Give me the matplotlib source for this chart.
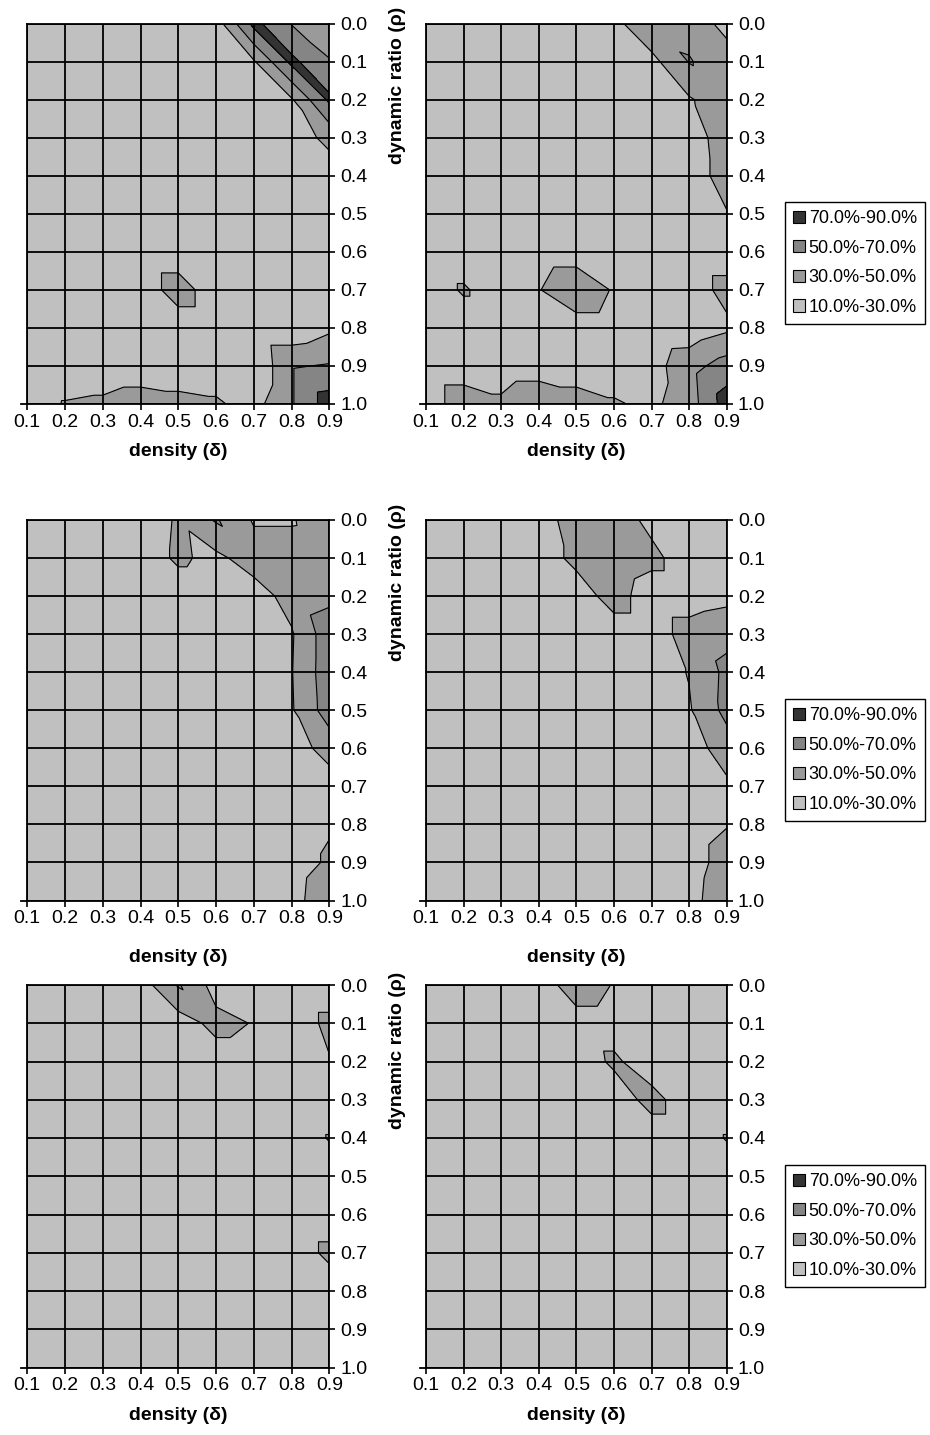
import numpy as np
import matplotlib.pyplot as plt
import matplotlib.tri as mtri
from matplotlib.patches import Patch

plt.rcParams['font.family'] = ['Liberation Sans', 'DejaVu Sans']

# grid of the surface data
density = [0.1, 0.2, 0.3, 0.4, 0.5, 0.6, 0.7, 0.8, 0.9]
ratio = [0.0, 0.1, 0.2, 0.3, 0.4, 0.5, 0.6, 0.7, 0.8, 0.9, 1.0]

band_levels = [0.1, 0.3, 0.5, 0.7, 0.9]
band_colors = ['#c0c0c0', '#9a9a9a', '#858585', '#333333']
legend_labels = ['70.0%-90.0%', '50.0%-70.0%', '30.0%-50.0%', '10.0%-30.0%']

# one row per dynamic ratio (0.0 .. 1.0), one column per density (0.1 .. 0.9)
z_top_left = [
    [0.20, 0.20, 0.20, 0.20, 0.20, 0.20, 0.76, 0.49, 0.40],
    [0.20, 0.20, 0.20, 0.20, 0.20, 0.20, 0.28, 0.75, 0.51],
    [0.20, 0.20, 0.20, 0.20, 0.20, 0.20, 0.20, 0.28, 0.74],
    [0.20, 0.20, 0.20, 0.20, 0.20, 0.20, 0.20, 0.20, 0.35],
    [0.20, 0.20, 0.20, 0.20, 0.20, 0.20, 0.20, 0.20, 0.20],
    [0.20, 0.20, 0.20, 0.20, 0.20, 0.20, 0.20, 0.20, 0.20],
    [0.20, 0.20, 0.20, 0.20, 0.20, 0.20, 0.20, 0.20, 0.20],
    [0.20, 0.20, 0.20, 0.20, 0.38, 0.20, 0.20, 0.20, 0.20],
    [0.20, 0.20, 0.20, 0.20, 0.20, 0.20, 0.15, 0.15, 0.26],
    [0.20, 0.20, 0.20, 0.20, 0.20, 0.20, 0.12, 0.48, 0.52],
    [0.22, 0.31, 0.33, 0.38, 0.35, 0.325, 0.23, 0.48, 0.80],
]

z_top_right = [
    [0.20, 0.20, 0.20, 0.20, 0.20, 0.24, 0.47, 0.45, 0.22],
    [0.20, 0.20, 0.20, 0.20, 0.20, 0.20, 0.24, 0.51, 0.42],
    [0.20, 0.20, 0.20, 0.20, 0.20, 0.20, 0.20, 0.28, 0.42],
    [0.20, 0.20, 0.20, 0.20, 0.20, 0.20, 0.20, 0.20, 0.40],
    [0.20, 0.20, 0.20, 0.20, 0.20, 0.20, 0.20, 0.20, 0.38],
    [0.20, 0.20, 0.20, 0.20, 0.20, 0.20, 0.20, 0.20, 0.29],
    [0.20, 0.20, 0.20, 0.20, 0.20, 0.20, 0.20, 0.20, 0.20],
    [0.20, 0.32, 0.20, 0.29, 0.45, 0.28, 0.20, 0.20, 0.36],
    [0.20, 0.20, 0.20, 0.20, 0.20, 0.20, 0.15, 0.164, 0.26],
    [0.20, 0.20, 0.20, 0.20, 0.20, 0.20, 0.22, 0.426, 0.59],
    [0.20, 0.40, 0.335, 0.45, 0.38, 0.32, 0.26, 0.40, 0.80],
]

z_mid_left = [
    [0.20, 0.20, 0.20, 0.20, 0.32, 0.52, 0.28, 0.28, 0.45],
    [0.20, 0.20, 0.20, 0.20, 0.33, 0.25, 0.40, 0.40, 0.42],
    [0.20, 0.20, 0.20, 0.20, 0.20, 0.20, 0.20, 0.38, 0.45],
    [0.20, 0.20, 0.20, 0.20, 0.20, 0.20, 0.20, 0.28, 0.62],
    [0.20, 0.20, 0.20, 0.20, 0.20, 0.20, 0.20, 0.29, 0.62],
    [0.20, 0.20, 0.20, 0.20, 0.20, 0.20, 0.20, 0.28, 0.60],
    [0.20, 0.20, 0.20, 0.20, 0.20, 0.20, 0.20, 0.20, 0.38],
    [0.20, 0.20, 0.20, 0.20, 0.20, 0.20, 0.20, 0.20, 0.20],
    [0.20, 0.20, 0.20, 0.20, 0.20, 0.20, 0.20, 0.20, 0.28],
    [0.20, 0.20, 0.20, 0.20, 0.20, 0.20, 0.20, 0.20, 0.33],
    [0.20, 0.20, 0.20, 0.20, 0.20, 0.20, 0.20, 0.22, 0.45],
]

z_mid_right = [
    [0.20, 0.20, 0.20, 0.20, 0.40, 0.40, 0.25, 0.20, 0.20],
    [0.20, 0.20, 0.20, 0.20, 0.35, 0.42, 0.35, 0.20, 0.20],
    [0.20, 0.20, 0.20, 0.20, 0.20, 0.38, 0.20, 0.20, 0.24],
    [0.20, 0.20, 0.20, 0.20, 0.20, 0.20, 0.20, 0.38, 0.45],
    [0.20, 0.20, 0.20, 0.20, 0.20, 0.20, 0.20, 0.31, 0.55],
    [0.20, 0.20, 0.20, 0.20, 0.20, 0.20, 0.20, 0.28, 0.56],
    [0.20, 0.20, 0.20, 0.20, 0.20, 0.20, 0.20, 0.20, 0.40],
    [0.20, 0.20, 0.20, 0.20, 0.20, 0.20, 0.20, 0.20, 0.26],
    [0.20, 0.20, 0.20, 0.20, 0.20, 0.20, 0.20, 0.20, 0.29],
    [0.20, 0.20, 0.20, 0.20, 0.20, 0.20, 0.20, 0.20, 0.39],
    [0.20, 0.20, 0.20, 0.20, 0.20, 0.20, 0.20, 0.22, 0.45],
]

z_bot_left = [
    [0.20, 0.20, 0.20, 0.20, 0.52, 0.22, 0.20, 0.20, 0.20],
    [0.20, 0.20, 0.20, 0.20, 0.20, 0.36, 0.29, 0.20, 0.34],
    [0.20, 0.20, 0.20, 0.20, 0.20, 0.20, 0.20, 0.20, 0.29],
    [0.20, 0.20, 0.20, 0.20, 0.20, 0.20, 0.20, 0.20, 0.20],
    [0.20, 0.20, 0.20, 0.20, 0.20, 0.20, 0.20, 0.20, 0.31],
    [0.20, 0.20, 0.20, 0.20, 0.20, 0.20, 0.20, 0.20, 0.20],
    [0.20, 0.20, 0.20, 0.20, 0.20, 0.20, 0.20, 0.20, 0.20],
    [0.20, 0.20, 0.20, 0.20, 0.20, 0.20, 0.20, 0.20, 0.34],
    [0.20, 0.20, 0.20, 0.20, 0.20, 0.20, 0.20, 0.20, 0.20],
    [0.20, 0.20, 0.20, 0.20, 0.20, 0.20, 0.20, 0.20, 0.20],
    [0.20, 0.20, 0.20, 0.20, 0.20, 0.20, 0.20, 0.20, 0.20],
]

z_bot_right = [
    [0.20, 0.20, 0.20, 0.20, 0.40, 0.29, 0.20, 0.20, 0.20],
    [0.20, 0.20, 0.20, 0.20, 0.22, 0.22, 0.20, 0.20, 0.20],
    [0.20, 0.20, 0.20, 0.20, 0.20, 0.33, 0.20, 0.20, 0.20],
    [0.20, 0.20, 0.20, 0.20, 0.20, 0.20, 0.36, 0.20, 0.20],
    [0.20, 0.20, 0.20, 0.20, 0.20, 0.20, 0.20, 0.20, 0.31],
    [0.20, 0.20, 0.20, 0.20, 0.20, 0.20, 0.20, 0.20, 0.20],
    [0.20, 0.20, 0.20, 0.20, 0.20, 0.20, 0.20, 0.20, 0.20],
    [0.20, 0.20, 0.20, 0.20, 0.20, 0.20, 0.20, 0.20, 0.20],
    [0.20, 0.20, 0.20, 0.20, 0.20, 0.20, 0.20, 0.20, 0.20],
    [0.20, 0.20, 0.20, 0.20, 0.20, 0.20, 0.20, 0.20, 0.20],
    [0.20, 0.20, 0.20, 0.20, 0.20, 0.20, 0.20, 0.20, 0.20],
]

panels = [[z_top_left, z_top_right], [z_mid_left, z_mid_right], [z_bot_left, z_bot_right]]

W, H = 930, 1435
fig = plt.figure(figsize=(W / 100, H / 100), dpi=100)

# pixel layout of the panels
row_top = [23.5, 520, 985]
row_bot = [404, 900.5, 1367.5]
col_left = [27.3, 426]
col_right = [329.3, 726.7]
xlabel_y = [452, 957, 1415]
ylabel_y = [85, 582, 1050]
legend_y = [263, 760, 1226]

# triangulate the grid, every cell split along the down-right diagonal
X, Y = np.meshgrid(density, ratio)
nx, ny = len(density), len(ratio)
tris = []
for j in range(ny - 1):
    for i in range(nx - 1):
        a = j * nx + i
        tris.append([a, a + 1, a + nx + 1])
        tris.append([a, a + nx + 1, a + nx])
triang = mtri.Triangulation(X.ravel(), Y.ravel(), tris)

for r in range(3):
    for c in range(2):
        l, t, rt, b = col_left[c], row_top[r], col_right[c], row_bot[r]
        ax = fig.add_axes([l / W, 1 - b / H, (rt - l) / W, (b - t) / H])
        z = np.array(panels[r][c]).ravel()
        ax.tricontourf(triang, z, levels=band_levels, colors=band_colors)
        ax.tricontour(triang, z, levels=[0.3, 0.5, 0.7], colors='k', linewidths=0.8)
        ax.set_xlim(0.1, 0.9)
        ax.set_ylim(1.0, 0.0)
        ax.set_xticks(density)
        ax.set_xticklabels([f'{v:.1f}' for v in density])
        ax.set_yticks(ratio)
        ax.set_yticklabels([f'{v:.1f}' for v in ratio])
        ax.yaxis.tick_right()
        ax.grid(True, color='k', linewidth=1.3)
        ax.set_axisbelow(False)
        ax.tick_params(axis='both', length=4, width=1.2, labelsize=14, colors='k')
        ax.tick_params(axis='x', pad=3)
        ax.tick_params(axis='y', pad=4)
        for s in ax.spines.values():
            s.set_linewidth(1.3)
            s.set_color('k')
        ax.plot([-0.02, 0], [0, 0], transform=ax.transAxes, color='k', lw=1.3, clip_on=False)
        fig.text((l + rt) / 2 / W, 1 - xlabel_y[r] / H, 'density (δ)', ha='center', va='center',
                 fontsize=14, fontweight='bold')
    fig.text(397 / W, 1 - ylabel_y[r] / H, 'dynamic ratio (ρ)', rotation=90, ha='center', va='center',
             fontsize=14, fontweight='bold')
    handles = [Patch(facecolor=col, edgecolor='k', linewidth=0.8) for col in band_colors[::-1]]
    leg = fig.legend(handles, legend_labels, loc='center', bbox_to_anchor=(855 / W, 1 - legend_y[r] / H),
                     frameon=True, fancybox=False, edgecolor='k', framealpha=1, fontsize=13,
                     handlelength=0.67, handleheight=0.67, handletextpad=0.2, labelspacing=0.7,
                     borderpad=0.45, borderaxespad=0)
    leg.get_frame().set_linewidth(1.0)

fig.savefig('out.png', dpi=100)
